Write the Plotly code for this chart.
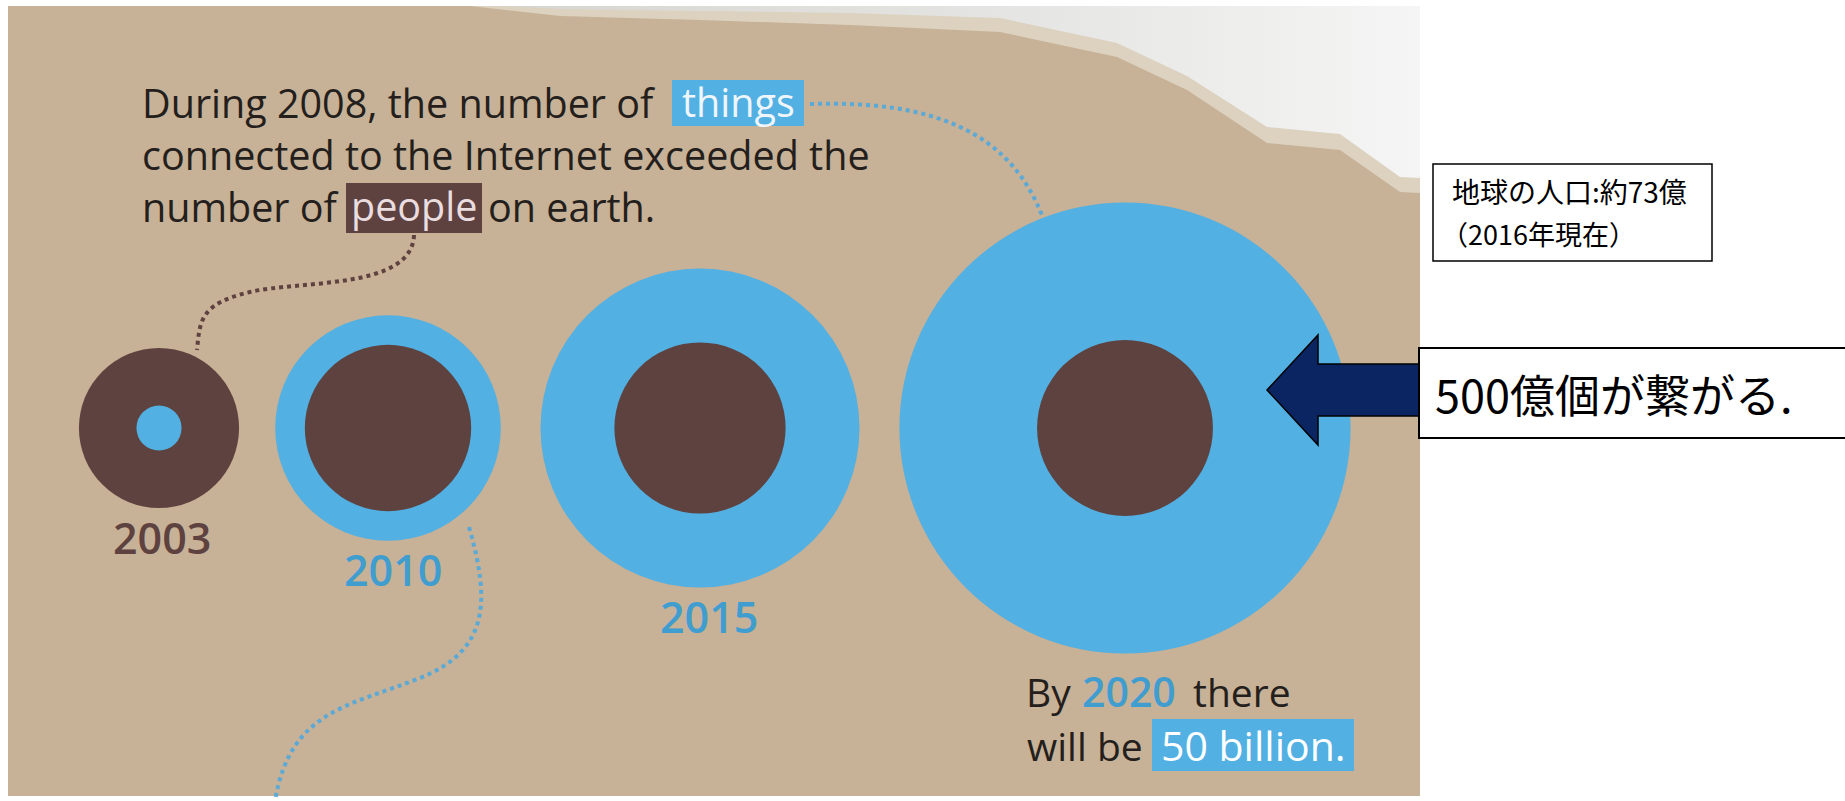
import math
import plotly.graph_objects as go

# ---------------- data ----------------
years = ["2003", "2010", "2015", "2020"]
devices_bn = [0.5, 12.5, 25, 50]      # connected things (billions)
people_bn = [6.3, 6.8, 7.2, 7.6]      # world population (billions)

# ---------------- layout constants ----------------
W, H = 1845, 801
K = 31.9                      # px of radius per sqrt(billion)  (area proportional)
CX = [159, 388, 700, 1125]    # circle centres
CY = 428

BEIGE = "#c7b197"
BROWN = "#5e423f"
BLUE = "#52b0e2"
BLUE_TXT = "#3f9dd0"
DARK = "#241f1c"

fig = go.Figure()
shapes = []
ann = []

# photo background
shapes.append(dict(type="rect", x0=8, x1=1420, y0=6, y1=796, line=dict(width=0), fillcolor=BEIGE, layer="below"))

# torn paper (cream band + grey sheet with gradient)
cream = [(470, 6), (560, 16), (700, 20), (850, 25), (1000, 32), (1117, 57), (1187, 90), (1267, 143),
         (1340, 150), (1400, 192), (1420, 193), (1420, 6)]
grey = [(505, 6), (560, 9), (700, 11), (850, 13), (1000, 18), (1117, 43), (1187, 76), (1267, 127),
        (1340, 134), (1400, 177), (1420, 178), (1420, 6)]
fig.add_trace(go.Scatter(x=[p[0] for p in cream] + [cream[0][0]], y=[p[1] for p in cream] + [cream[0][1]],
                         mode="lines", line=dict(width=0), fill="toself", fillcolor="#dcd2bf",
                         hoverinfo="skip"))
fig.add_trace(go.Scatter(x=[p[0] for p in grey] + [grey[0][0]], y=[p[1] for p in grey] + [grey[0][1]],
                         mode="lines", line=dict(width=0), fill="toself",
                         fillgradient=dict(type="horizontal",
                                           colorscale=[[0, "#d6d5d1"], [0.6, "#e6e6e4"], [1, "#f5f5f5"]]),
                         hoverinfo="skip"))

# dotted connectors
shapes.append(dict(type="path", path="M 414,235 C 412,290 300,280 250,292 S 200,320 197,350",
                   line=dict(color=BROWN, width=4, dash="dot")))
shapes.append(dict(type="path", path="M 810,104 C 930,100 1010,130 1043,218",
                   line=dict(color="#5aa9d6", width=4, dash="dot")))
shapes.append(dict(type="path", path="M 469,527 C 490,600 490,650 420,678 S 290,710 275,801",
                   line=dict(color="#5aa9d6", width=4, dash="dot")))

# circles
label_cols = [BROWN, BLUE_TXT, BLUE_TXT, BLUE_TXT]
for i, yr in enumerate(years):
    rd = K * math.sqrt(devices_bn[i])
    rp = K * math.sqrt(people_bn[i])
    pair = sorted([(rd, BLUE), (rp, BROWN)], reverse=True)
    for r, col in pair:
        shapes.append(dict(type="circle", xref="x", yref="y", x0=CX[i] - r, x1=CX[i] + r,
                           y0=CY - r, y1=CY + r, line=dict(width=0), fillcolor=col))
    rmax = pair[0][0]
    off = [3, 5, 9, 0][i]
    if i < 3:
        ann.append(dict(x=CX[i] + off, y=CY + rmax + 29, text=yr, showarrow=False, xanchor="center",
                        yanchor="middle", font=dict(family="Open Sans", size=43, color=label_cols[i], weight=600)))

# top text
TF = dict(family="Open Sans", size=39.5, color=DARK)
shapes.append(dict(type="rect", x0=672, x1=804, y0=80, y1=126, line=dict(width=0), fillcolor=BLUE))
shapes.append(dict(type="rect", x0=346, x1=482, y0=183, y1=233, line=dict(width=0), fillcolor=BROWN))
ann += [
    dict(x=141, y=103, text="During 2008, the number of", font=TF),
    dict(x=738, y=102, text="things", font=dict(TF, color="#eef6fb"), xanchor="center"),
    dict(x=141, y=155, text="connected to the Internet exceeded the", font=TF),
    dict(x=141, y=207, text="number of", font=TF),
    dict(x=414, y=206, text="people", font=dict(TF, color="#eadde0"), xanchor="center"),
    dict(x=487, y=207, text="on earth.", font=TF),
]

# bottom text
BF = dict(family="Open Sans", size=39, color=DARK)
shapes.append(dict(type="rect", x0=1152, x1=1354, y0=719, y1=771, line=dict(width=0), fillcolor=BLUE))
ann += [
    dict(x=1025, y=691, text="By", font=BF),
    dict(x=1081, y=691, text="2020", font=dict(BF, color=BLUE_TXT, weight=600, size=41)),
    dict(x=1192, y=691, text="there", font=BF),
    dict(x=1026, y=745, text="will be", font=BF),
    dict(x=1253, y=745, text="50 billion.", font=dict(BF, color="#ffffff", size=41), xanchor="center"),
]

# arrow
arrow = [(1267, 390), (1318, 335), (1318, 364), (1420, 364), (1420, 416), (1318, 416), (1318, 445)]
shapes.append(dict(type="path", path="M " + " L ".join(f"{x},{y}" for x, y in arrow) + " Z",
                   line=dict(color="#000000", width=1.5), fillcolor="#0b2562"))

# boxes with japanese text
shapes.append(dict(type="rect", x0=1433, x1=1712, y0=164, y1=261, line=dict(color="#000", width=1.5), fillcolor="#fff"))
shapes.append(dict(type="rect", x0=1419, x1=1850, y0=348, y1=438, line=dict(color="#000", width=2), fillcolor="#fff"))
JF = dict(family="Noto Sans CJK JP", color="#000")
ann += [
    dict(x=1451, y=191, text="地球の人口:約73億", font=dict(JF, size=28)),
    dict(x=1440, y=233, text="（2016年現在）", font=dict(JF, size=27)),
    dict(x=1434, y=393, text="500億個が繋がる.", font=dict(JF, size=45)),
]

for a in ann:
    a.setdefault("showarrow", False)
    a.setdefault("xanchor", "left")
    a.setdefault("yanchor", "middle")
    a.setdefault("xref", "x")
    a.setdefault("yref", "y")
    a.setdefault("borderpad", 0)

fig.update_layout(
    width=W, height=H, margin=dict(l=0, r=0, t=0, b=0),
    paper_bgcolor="#ffffff", plot_bgcolor="#ffffff",
    xaxis=dict(range=[0, W], visible=False, fixedrange=True),
    yaxis=dict(range=[H, 0], visible=False, fixedrange=True),
    shapes=shapes, annotations=ann, showlegend=False,
)
fig.write_html("out.html", config={"displayModeBar": False})
